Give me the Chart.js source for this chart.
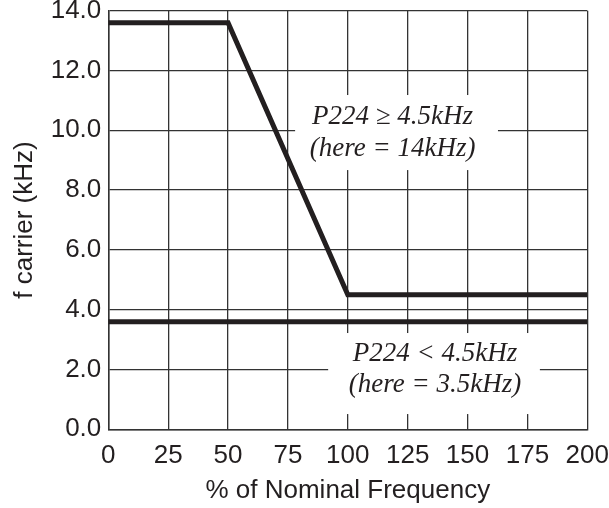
<!DOCTYPE html>
<html>
<head>
<meta charset="utf-8">
<script src="https://cdn.jsdelivr.net/npm/chart.js@4"></script>
<style>
  html, body { margin: 0; padding: 0; background: #fff; }
  #wrap { width: 609px; height: 508px; }
</style>
</head>
<body>
<div id="wrap"><canvas id="myChart" width="609" height="508"></canvas></div>
<script>
// data
const highX = [0, 50, 100, 200];
const highY = [13.6, 13.6, 4.5, 4.5];
const lowX = [0, 200];
const lowY = [3.6, 3.6];

const xTicks = [0, 25, 50, 75, 100, 125, 150, 175, 200];
const yTicks = [0, 2, 4, 6, 8, 10, 12, 14];

// annotation text lines
const noteHigh = ["P224 \u2265 4.5kHz", "(here = 14kHz)"];
const noteLow = ["P224 < 4.5kHz", "(here = 3.5kHz)"];

const ink = "#231f20";
Chart.defaults.font.family = "'Liberation Sans', Arial, sans-serif";
Chart.defaults.color = ink;

function toPoints(xs, ys) {
    return xs.map(function (x, i) { return { x: x, y: ys[i] }; });
}

// white boxes with italic text over the grid
const notesPlugin = {
    id: "notes",
    beforeDatasetsDraw: function (chart) {
        const ctx = chart.ctx;
        const xs = chart.scales.x, ys = chart.scales.y;
        const boxes = [
            { x0: 78, x1: 162.7, y0: 11.18, y1: 8.67, tx: 118.7, lines: noteHigh, base: [10.21, 9.14] },
            { x0: 91.8, x1: 180.2, y0: 3.22, y1: 0.51, tx: 136.4, lines: noteLow, base: [2.29, 1.26] }
        ];
        ctx.save();
        boxes.forEach(function (b) {
            const l = xs.getPixelForValue(b.x0), r = xs.getPixelForValue(b.x1);
            const t = ys.getPixelForValue(b.y0), bt = ys.getPixelForValue(b.y1);
            ctx.fillStyle = "#fff";
            ctx.fillRect(l, t, r - l, bt - t);
            ctx.fillStyle = ink;
            ctx.font = "italic 27px 'Liberation Serif', 'Times New Roman', serif";
            ctx.textAlign = "center";
            ctx.textBaseline = "alphabetic";
            b.lines.forEach(function (txt, i) {
                ctx.fillText(txt, xs.getPixelForValue(b.tx), ys.getPixelForValue(b.base[i]));
            });
        });
        ctx.restore();
    }
};

new Chart("myChart", {
    type: "line",
    data: {
        datasets: [{
            data: toPoints(highX, highY),
            borderColor: ink,
            borderWidth: 5,
            pointRadius: 0,
            tension: 0,
            fill: false
        }, {
            data: toPoints(lowX, lowY),
            borderColor: ink,
            borderWidth: 5,
            pointRadius: 0,
            tension: 0,
            fill: false
        }]
    },
    options: {
        responsive: false,
        animation: false,
        layout: { padding: { left: 0, top: 10.7, right: 21.7, bottom: 0 } },
        plugins: { legend: { display: false }, tooltip: { enabled: false } },
        scales: {
            x: {
                type: "linear",
                min: 0,
                max: 200,
                afterBuildTicks: function (axis) {
                    axis.ticks = xTicks.map(function (v) { return { value: v }; });
                },
                afterFit: function (axis) {
                    axis.height = 78.7;
                    axis.paddingLeft = 0;
                    axis.paddingRight = 0;
                },
                grid: { color: "#333", lineWidth: 1.3, drawTicks: false },
                border: { color: "#333", width: 1.5 },
                ticks: { font: { size: 26 }, padding: 11, maxRotation: 0, autoSkip: false },
                title: {
                    display: true,
                    text: "% of Nominal Frequency",
                    font: { size: 26 },
                    padding: { top: 0, bottom: 1.4 }
                }
            },
            y: {
                min: 0,
                max: 14,
                afterBuildTicks: function (axis) {
                    axis.ticks = yTicks.map(function (v) { return { value: v }; });
                },
                afterFit: function (axis) {
                    axis.width = 108.3;
                    axis.paddingTop = 0;
                    axis.paddingBottom = 0;
                },
                grid: { color: "#333", lineWidth: 1.3, drawTicks: false },
                border: { color: "#333", width: 1.5 },
                ticks: {
                    font: { size: 26 },
                    padding: 7,
                    callback: function (v) { return v.toFixed(1); }
                },
                title: {
                    display: true,
                    text: "f carrier (kHz)",
                    font: { size: 26 },
                    padding: { top: 9.4, bottom: 0 }
                }
            }
        }
    },
    plugins: [notesPlugin]
});
</script>
</body>
</html>
